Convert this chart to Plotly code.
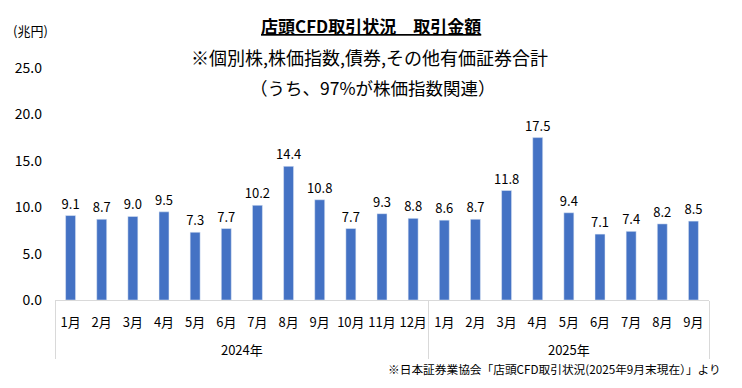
import plotly.graph_objects as go

years = ["2024年"] * 12 + ["2025年"] * 9
months = ["1月", "2月", "3月", "4月", "5月", "6月", "7月", "8月", "9月", "10月", "11月", "12月",
          "1月", "2月", "3月", "4月", "5月", "6月", "7月", "8月", "9月"]
values = [9.1, 8.7, 9.0, 9.5, 7.3, 7.7, 10.2, 14.4, 10.8, 7.7, 9.3, 8.8,
          8.6, 8.7, 11.8, 17.5, 9.4, 7.1, 7.4, 8.2, 8.5]
y_ticks = [0, 5, 10, 15, 20, 25]

FONT = "Noto Sans CJK JP"
W, H = 742, 388
ML, MR, MT, MB = 55, 33, 68, 88

# year labels pushed one line down (empty first line) to sit below the month row
year_labels = ["<br>" + y for y in years]

fig = go.Figure(go.Bar(
    x=[year_labels, months], y=values,
    marker_color="#4472C4",
    text=[f"{v:.1f}" for v in values], textposition="outside",
    textfont=dict(size=13, color="#000000", family=FONT),
    constraintext="none",
    cliponaxis=False,
))

H_plot = H - MT - MB
W_plot = W - ML - MR
def ypix(py):
    return (H - MB - py) / H_plot
def xpix(px):
    return (px - ML) / W_plot

fig.update_layout(
    width=W, height=H,
    margin=dict(l=ML, r=MR, t=MT, b=MB, autoexpand=False),
    paper_bgcolor="white", plot_bgcolor="white",
    bargap=0.68,
    showlegend=False,
    font=dict(family=FONT, size=12, color="#000000"),
    yaxis=dict(range=[0, 25], tickvals=y_ticks, tickformat=".1f",
               showgrid=False, zeroline=False, showline=False, automargin=False,
               ticks="", tickfont=dict(size=14), ticklabelstandoff=12),
    xaxis=dict(type="multicategory", showline=True, linecolor="#D9D9D9",
               showdividers=True, dividercolor="#D9D9D9", dividerwidth=1,
               automargin=False, tickangle=0, ticklabelstandoff=10,
               ticks="", tickfont=dict(size=13)),
    annotations=[
        dict(text="<b><u>店頭CFD取引状況　取引金額</u></b>", x=xpix(371), xref="paper", xanchor="center",
             y=ypix(26), yref="paper", yanchor="middle", showarrow=False, font=dict(size=17)),
        dict(text="※個別株,株価指数,債券,その他有価証券合計", x=xpix(369), xref="paper", xanchor="center",
             y=ypix(57), yref="paper", yanchor="middle", showarrow=False, font=dict(size=18)),
        dict(text="（うち、97%が株価指数関連）", x=xpix(373), xref="paper", xanchor="center",
             y=ypix(87), yref="paper", yanchor="middle", showarrow=False, font=dict(size=17.5)),
        dict(text="(兆円)", x=xpix(11), xref="paper", xanchor="left",
             y=ypix(31), yref="paper", yanchor="middle", showarrow=False, font=dict(size=13)),
        dict(text="※日本証券業協会「店頭CFD取引状況(2025年9月末現在）」より", x=xpix(723), xref="paper", xanchor="right",
             y=ypix(368), yref="paper", yanchor="middle", showarrow=False, font=dict(size=11.7)),
    ],
)

fig.write_html("out.html", config={"displayModeBar": False},
               post_script="document.body.style.margin='0';")
